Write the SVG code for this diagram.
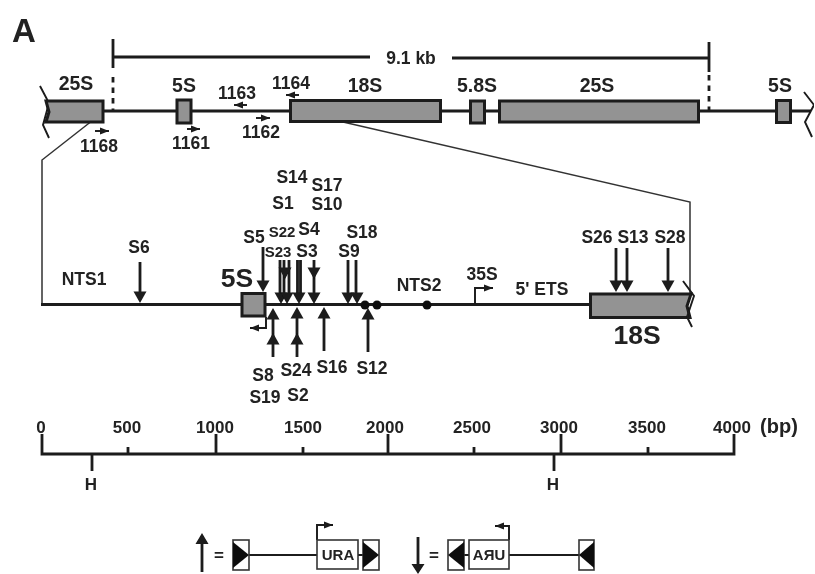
<svg xmlns="http://www.w3.org/2000/svg" width="815" height="574" viewBox="0 0 815 574">
<style>
text{font-family:"Liberation Sans",Arial,sans-serif;font-weight:bold;fill:#222;text-anchor:middle}
.t{font-size:17.500px}.s{font-size:15px}.a{font-size:17px}.h{font-size:19.500px}.big{font-size:26.500px}
.b{fill:#939393;stroke:#1a1a1a;stroke-width:3}
.l{fill:none;stroke:#1a1a1a;stroke-width:2.800}
.m{fill:none;stroke:#1a1a1a;stroke-width:1.900}
.n{fill:none;stroke:#333;stroke-width:1.500}
.sw{fill:#fff;stroke:#333;stroke-width:1.600}
.k{fill:#111;stroke:none}
</style>
<defs>
<filter id="soft" x="0" y="0" width="100%" height="100%"><feGaussianBlur stdDeviation="0.450"/></filter>
<marker id="sm" markerUnits="userSpaceOnUse" markerWidth="10" markerHeight="9" refX="9" refY="4.500" orient="auto"><path d="M0 1L9 4.500L0 8Z" fill="#1a1a1a"/></marker>
<path id="dn" d="M-6.500 -11.500L6.500 -11.500L0 0Z" fill="#1a1a1a"/>
<path id="up" d="M-6.500 11.500L6.500 11.500L0 0Z" fill="#1a1a1a"/>
</defs>
<rect width="815" height="574" fill="#fff"/>
<g filter="url(#soft)">
<g id="connectors">
<path class="l" d="M113 39V68M113 57H370M452 58H709M709 42V72"/>
<path class="l" d="M113 77V110M709 75V110" stroke-dasharray="5.500 5"/>
<path class="l" d="M103 111H176M192 111H290M441 111H470M485 111H499M699 111H776M791 111H811"/>
<path class="n" d="M102 113L42 160V304M343 122L690 202V293"/>
<path class="l" d="M41 304.500H590"/>
<path class="m" d="M95 131H109" marker-end="url(#sm)"/>
<path class="m" d="M187 129H200" marker-end="url(#sm)"/>
<path class="m" d="M247 105H234" marker-end="url(#sm)"/>
<path class="m" d="M256 118H270" marker-end="url(#sm)"/>
<path class="m" d="M299 95H286" marker-end="url(#sm)"/>
<path class="m" d="M266 317V328H250" marker-end="url(#sm)"/>
<path class="m" d="M475 304V288H493" marker-end="url(#sm)"/>
<path class="l" d="M140 262V292M263 247V281M280 260V293M284 260V293M289 260V293M297.500 260V293M300.500 260V293M314 260V293M348 260V293M356 260V293M616 248V281M627 248V281M668 248V281"/>
<use href="#dn" x="140" y="303"/>
<use href="#dn" x="263" y="292"/>
<use href="#dn" x="281" y="304"/><use href="#dn" x="285" y="279"/><use href="#dn" x="287" y="304"/>
<use href="#dn" x="299" y="304"/>
<use href="#dn" x="314" y="279"/><use href="#dn" x="314" y="304"/>
<use href="#dn" x="348" y="304"/><use href="#dn" x="357" y="304"/>
<use href="#dn" x="616" y="292"/><use href="#dn" x="627" y="292"/><use href="#dn" x="668" y="292"/>
<path class="l" d="M273 357V315M297 357V315M324 351V315M368 352V318"/>
<use href="#up" x="273" y="308"/><use href="#up" x="273" y="333"/>
<use href="#up" x="297" y="307"/><use href="#up" x="297" y="333"/>
<use href="#up" x="324" y="307"/>
<use href="#up" x="368" y="308"/>
<path class="l" d="M42 434V454H734V434M128 447V454M216 434V454M303 447V454M388 434V454M474 447V454M561 434V454M648 447V454M92 454V471M554 454V471"/>
<path class="l" d="M202 572V542M418 537V566"/>
<path d="M202 533L208.500 544H195.500Z M418 574L411.500 564H424.500Z" fill="#1a1a1a"/>
<path class="m" d="M249 555H317M358 555H363M464 555H469M509 555H579"/>
<path class="m" d="M317 540V525H333" marker-end="url(#sm)"/>
<path class="m" d="M509 540V526H495" marker-end="url(#sm)"/>
</g>
<g id="panel-label"><text x="24" y="42" style="font-size:33px">A</text></g>
<g id="span"><text class="t" x="411" y="64">9.1 kb</text></g>
<g id="top-25S-left"><path d="M40 86L49 103L43 125L49 138" class="m"/><path class="b" d="M46 101H103V122H46L49 112Z"/><text class="h" x="76" y="90">25S</text></g>
<g id="top-5S-a"><rect class="b" x="177" y="100" width="14" height="23"/><text class="h" x="184" y="92">5S</text></g>
<g id="top-18S"><rect class="b" x="290.500" y="100.500" width="150" height="21"/><text class="h" x="365" y="92">18S</text></g>
<g id="top-5-8S"><rect class="b" x="470.500" y="101" width="14" height="22"/><text class="h" x="477" y="92">5.8S</text></g>
<g id="top-25S"><rect class="b" x="499.500" y="101" width="199" height="21"/><text class="h" x="597" y="92">25S</text></g>
<g id="top-5S-b"><rect class="b" x="776.500" y="100.500" width="14" height="22"/><text class="h" x="780" y="92">5S</text></g>
<path class="m" d="M804 92L814 105L805 122L812 137"/>
<g id="probes">
<text class="t" x="99" y="152">1168</text><text class="t" x="191" y="149">1161</text><text class="t" x="237" y="99">1163</text><text class="t" x="261" y="138">1162</text><text class="t" x="291" y="89">1164</text>
</g>
<g id="mid-5S"><rect class="b" x="242" y="293.500" width="23" height="22.500"/><text class="big" x="237" y="287">5S</text></g>
<g id="mid-18S"><path class="b" d="M590.500 294H691L687 306L690 317.500H590.500Z"/><path class="m" d="M683 281L694 296L687 317L692 327"/><text class="big" x="637" y="344">18S</text></g>
<g id="sites"><circle class="k" cx="365" cy="305" r="4.500"/><circle class="k" cx="377" cy="305" r="4.500"/><circle class="k" cx="427" cy="305" r="4.500"/></g>
<g id="mid-labels">
<text class="t" x="84" y="285">NTS1</text><text class="t" x="139" y="253">S6</text><text class="t" x="419" y="291">NTS2</text><text class="t" x="482" y="280">35S</text><text class="t" x="542" y="295">5' ETS</text>
<text class="t" x="292" y="183">S14</text><text class="t" x="327" y="191">S17</text><text class="t" x="283" y="209">S1</text><text class="t" x="327" y="210">S10</text><text class="t" x="309" y="235">S4</text><text class="s" x="282" y="237">S22</text><text class="t" x="254" y="243">S5</text><text class="t" x="362" y="238">S18</text><text class="s" x="278" y="257">S23</text><text class="t" x="307" y="257">S3</text><text class="t" x="349" y="257">S9</text>
<text class="t" x="263" y="381">S8</text><text class="t" x="296" y="376">S24</text><text class="t" x="332" y="373">S16</text><text class="t" x="372" y="374">S12</text><text class="t" x="265" y="403">S19</text><text class="t" x="298" y="401">S2</text>
<text class="t" x="597" y="243">S26</text><text class="t" x="633" y="243">S13</text><text class="t" x="670" y="243">S28</text>
</g>
<g id="scale-labels">
<text class="a" x="41" y="433">0</text><text class="a" x="127" y="433">500</text><text class="a" x="215" y="433">1000</text><text class="a" x="303" y="433">1500</text><text class="a" x="385" y="433">2000</text><text class="a" x="472" y="433">2500</text><text class="a" x="559" y="433">3000</text><text class="a" x="647" y="433">3500</text><text class="a" x="732" y="433">4000</text>
<text style="font-size:20px" x="779" y="433">(bp)</text>
<text class="a" x="91" y="490">H</text><text class="a" x="553" y="490">H</text>
</g>
<g id="legend-up">
<text class="a" x="219" y="561">=</text>
<rect class="sw" x="233" y="540" width="16" height="30"/><path class="k" d="M233 542L249 555L233 568Z"/>
<rect class="sw" x="317" y="540" width="41" height="29"/><text class="s" x="338" y="560">URA</text>
<rect class="sw" x="363" y="540" width="16" height="30"/><path class="k" d="M363 542L379 555L363 568Z"/>
</g>
<g id="legend-down">
<text class="a" x="434" y="561">=</text>
<rect class="sw" x="448" y="540" width="16" height="30"/><path class="k" d="M464 542L448 555L464 568Z"/>
<rect class="sw" x="469" y="540" width="40" height="29"/><text class="s" transform="translate(489 560) scale(-1 1)">URA</text>
<rect class="sw" x="579" y="540" width="15" height="30"/><path class="k" d="M594 542L579 555L594 568Z"/>
</g>
</g>
</svg>
